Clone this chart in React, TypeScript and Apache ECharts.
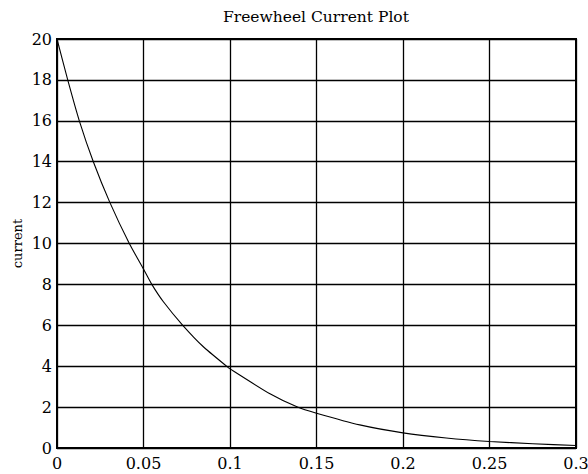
import React, { useEffect, useRef } from "react";
import * as echarts from "echarts";

// Time samples (s) and freewheel current (A)
const timeValues = [
  0, 0.0062, 0.0129, 0.021, 0.0306, 0.0418, 0.05, 0.0548, 0.0615, 0.0727,
  0.0846, 0.098, 0.1, 0.1231, 0.139, 0.15, 0.175, 0.2, 0.225, 0.25,
  0.275, 0.3,
];
const currentValues = [
  20, 18, 16, 14, 12, 10, 8.75, 8, 7.15, 6,
  4.95, 4, 3.87, 2.65, 2, 1.7, 1.13, 0.74, 0.49, 0.32,
  0.21, 0.12,
];

const titleText = "Freewheel Current Plot";
const yAxisName = "current";

const FONT = '"DejaVu Serif", "Liberation Serif", serif';

export default function App() {
  const ref = useRef<HTMLDivElement>(null);

  useEffect(() => {
    if (!ref.current) return;
    const chart = echarts.init(ref.current, undefined, { renderer: "svg" });
    const data = timeValues.map((t, i) => [t, currentValues[i]]);

    chart.setOption({
      animation: false,
      backgroundColor: "#ffffff",
      title: {
        text: titleText,
        left: 218,
        top: 4,
        textStyle: {
          fontFamily: FONT,
          fontSize: 15.5,
          fontWeight: "normal",
          color: "#000",
        },
      },
      grid: {
        left: 57,
        top: 39,
        right: 12,
        bottom: 26,
        outerBoundsMode: "none",
        containLabel: false,
        show: true,
        borderColor: "#000",
        borderWidth: 2,
        backgroundColor: "#fff",
      },
      xAxis: {
        type: "value",
        min: 0,
        max: 0.3,
        interval: 0.05,
        axisLine: { show: true, onZero: false, lineStyle: { color: "#000", width: 2 } },
        axisTick: { show: true, inside: true, length: 5, lineStyle: { color: "#000" } },
        splitLine: { show: true, lineStyle: { color: "#000", width: 1.3 } },
        axisLabel: {
          color: "#000",
          fontFamily: FONT,
          fontSize: 16,
          margin: 7,
          formatter: (v: number) => String(+v.toFixed(2)),
        },
      },
      yAxis: {
        type: "value",
        min: 0,
        max: 20,
        interval: 2,
        name: yAxisName,
        nameLocation: "middle",
        nameGap: 33,
        nameMoveOverlap: false,
        nameTextStyle: { color: "#000", fontFamily: FONT, fontSize: 13 },
        axisLine: { show: true, lineStyle: { color: "#000", width: 2 } },
        axisTick: { show: true, inside: true, length: 5, lineStyle: { color: "#000" } },
        splitLine: { show: true, lineStyle: { color: "#000", width: 1.3 } },
        axisLabel: {
          color: "#000",
          fontFamily: FONT,
          fontSize: 16,
          margin: 5,
        },
      },
      series: [
        {
          type: "line",
          data,
          smooth: 0.2,
          showSymbol: false,
          lineStyle: { color: "#000", width: 1.1 },
        },
      ],
    });

    return () => chart.dispose();
  }, []);

  return (
    <div
      ref={ref}
      style={{ position: "fixed", left: 0, top: 0, width: 588, height: 474, background: "#fff" }}
    />
  );
}
